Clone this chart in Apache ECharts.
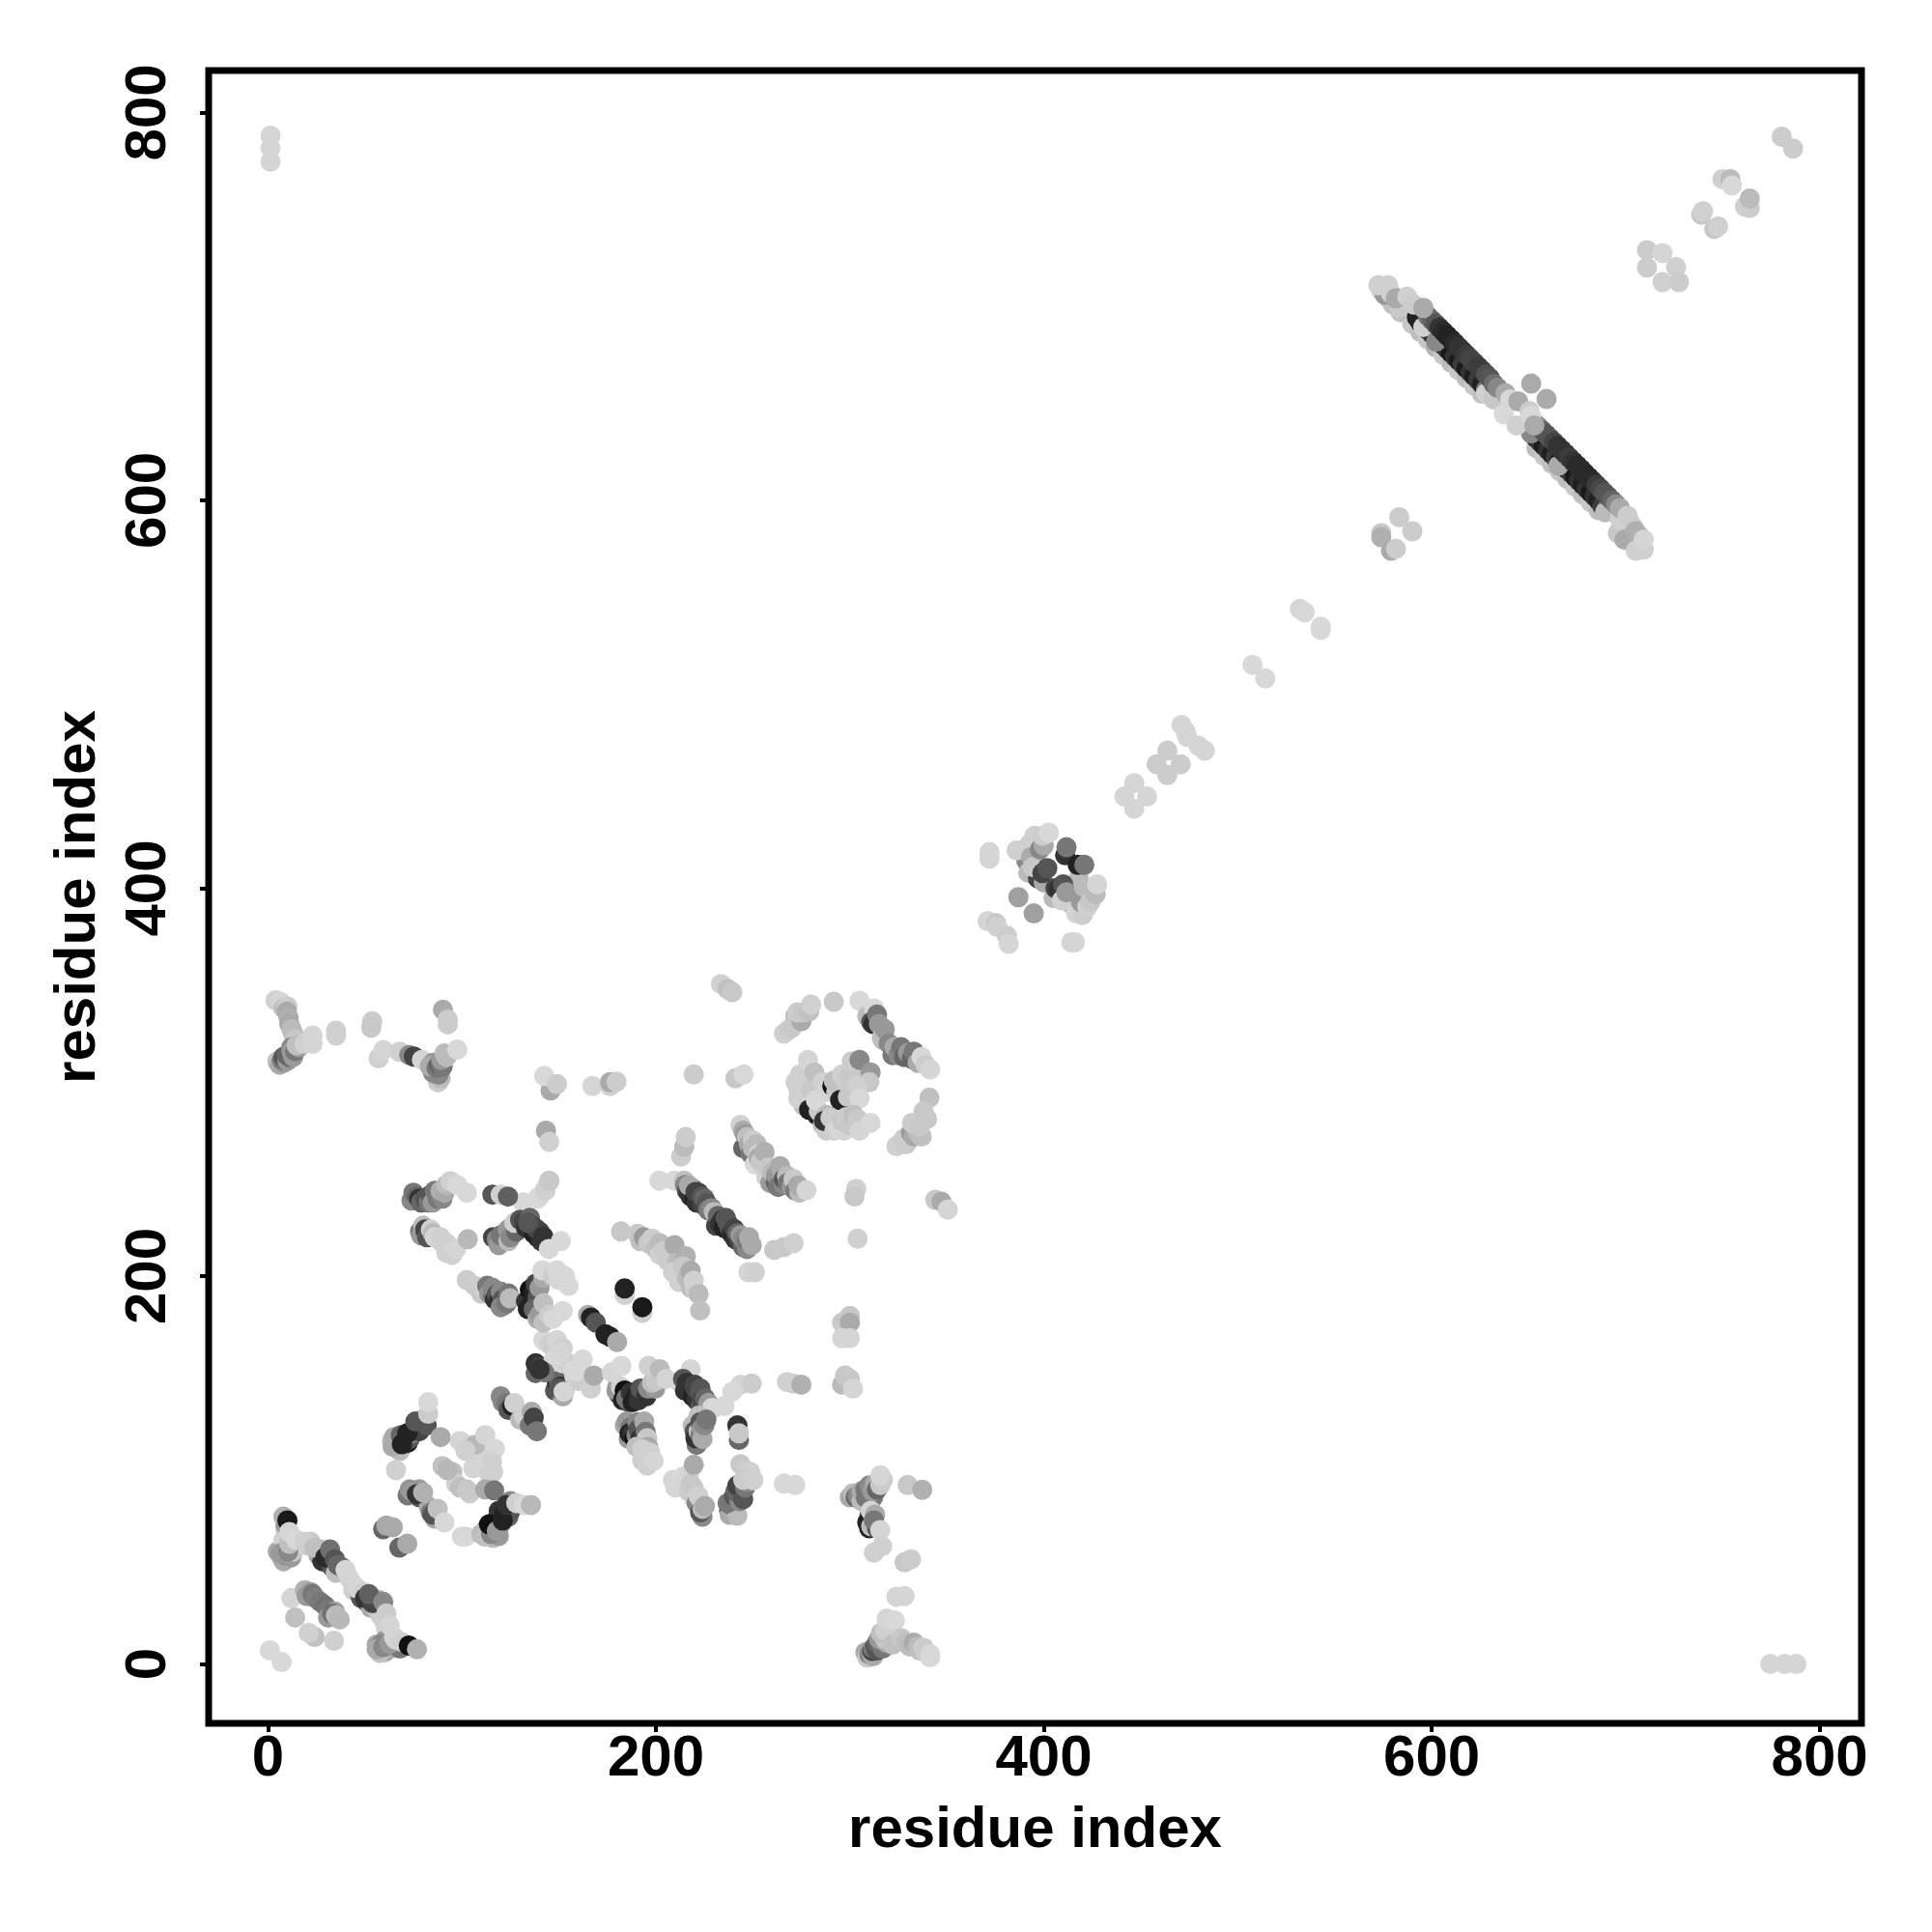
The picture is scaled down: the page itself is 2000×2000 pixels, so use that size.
<!DOCTYPE html>
<html>
<head>
<meta charset="utf-8">
<style>html,body{margin:0;padding:0;background:#fff}#c{width:2000px;height:2000px}</style>
<script src="https://cdn.jsdelivr.net/npm/echarts@6/dist/echarts.min.js"></script>
</head>
<body>
<div id="c"></div>
<script>
// every entry: [residue x, residue y, gray level 0-255]
var axisTitle = 'residue index';
var tickValues = [0, 200, 400, 600, 800];
var cornerTL = [[1.3,788,213],[1.3,781.6,213],[1.3,774.6,213]];
var cornerBR = [[774.6,0,213],[782,0,213],[788,0,213]];
var cornerBL = [[1,7,216],[7,1,216]];
var smallSquare = [[12,34,213],[14,24,192],[24,14,192],[21,16,208],[34,12,208],[19,38,176],[22,37,153],[20,35,153],[23,36,119],[24.5,34,128],[27,32,119],[29.5,30,112],[31,28,119],[31,24,153],[34.5,27,160],[33,26,112],[35,25,187],[37,23,184]];
var diag1Fill = [[5,58,170],[7,55,187],[8,53,170],[9,56,136],[12,55,153],[13,58,200],[12,60,208],[8,64,208],[9,70,192],[10,66,208],[12,65,208],[16,62,213],[21,61,200],[22,63,200],[27,59,192],[26,56,170],[28,53,51],[30,57,136],[31,52,51],[33,54,102],[33,50,85],[35,47,192],[38,50,119],[42,44,213],[44,41,213],[44,38,208],[47,36,170],[48,34,85],[51,32,51],[53,29,170],[55,33,119],[57,33,170],[56,28,192],[58,25,204],[60,22,208],[61,18,208],[63,16,204],[56,10,170],[58,6,176],[60,6,187],[61,7,153],[63,8,170],[64,10,153],[60,12,153],[58,10,136],[65,11,192],[67,10,170],[68,8,119]];
var diag1Low = [[57.7,5.7,192],[56,7.6,170],[59.4,8.6,136],[62.7,10.5,153],[66,12.4,208],[6.3,57,153],[10.4,58,136],[11,62,192],[9,72,153]];
var diag1 = [[8,76,176],[10,74,26],[11,68,213],[14.6,64,216],[18.7,63,208],[24,60,192],[29.5,55,42],[32,59,112],[34.5,54,85],[36,51,102],[40,48.5,213],[46,39,213],[49.4,37,208],[50,34,51],[54,31.4,68],[52,36,96],[59.4,32,136],[61,26,204],[62.7,20,213],[65,14,213],[69,11.4,208],[72.6,9.5,17],[76.8,7.6,176]];
var pairD = [[59.4,69.5,102],[61,71.4,168],[64.3,70.5,170],[67.7,60,102],[71.8,62,170]];
var ringUpperFill = [[64,115,187],[66,113,170],[67,115,136],[68,110,187],[70,117,102],[72,114,34],[73,116,85],[74,120,34],[75,119,119],[77,122,51],[78,120,68],[79,124,51],[80,126,119]];
var ringUpper = [[64.3,112,170],[65,117,170],[68.5,118,102],[69,113.3,34],[71.8,119,34],[76,125,85],[81.8,123,85],[82.6,129,204],[82.6,135,216],[89,117,170],[66,100,208]];
var ringArc = [[95,99,192],[97,93,208],[104,88,204],[103,113,213],[108,110,208],[110,112,208],[110,105,213],[112,103,213],[116,99,208],[99,115,213],[106.8,113,184],[112,118,213],[101.8,110,208],[117,111,216],[115.5,104,208],[105.8,101,213],[114,98,208],[90,102,192],[92.5,100,184],[99,91,192],[102.5,90,200]];
var ringLowerFill = [[72,87,119],[73,90,153],[78,90,153],[78,86,85],[83,81,170],[84,78,119],[86,75,170],[112,66,170],[114,68,136],[116,65,187],[119,66,153],[113,70,85],[116,71,34],[117,72,85],[118,75,119],[120,72,153],[119,79,51],[122,78,34],[124,76,102],[125,79,85],[125,84,136]];
var ringLower = [[74,89,85],[74,89,153],[76.8,87.6,51],[80,88.5,176],[85,77,85],[87.5,80,192],[91,73,216],[100,65.7,216],[102,65.7,216],[110,67,187],[111.6,65.7,192],[115,67,136],[114,72,17],[118,68.6,153],[112,90,170],[116.6,89.5,119],[121,74,34],[123,82,51],[128,83,208],[132,82,216],[135.6,82,184]];
var clusterF = [[120,138,136],[121,135,136],[123,134.5,119],[124,131,85],[126,133,34],[127,134.5,208],[130,126,187],[132,128,208],[133.6,126.7,208],[135,123,119],[136,130,170],[137,127,68],[138.6,120,119]];
var clusterG = [[138,150,102],[138,155,51],[140,153,68],[141,151,85],[143,150.5,136],[148,141,85],[149,145,51],[150,146,102],[151,143,51],[152,138,170],[153,141,208]];
var clusterH = [[142,167,216],[145,165,208],[147,163,204],[149,167,213],[150,160,204],[147,156,213],[152,163,208],[152,155,213],[155,155,208],[149,159,216],[150.7,160.4,213],[158,148,213],[160,146,204],[157.4,151.2,216],[159,151,216],[162.3,157,216],[166.5,142,208],[168,148.7,170]];
var clusterI = [[102.5,198,204],[106.6,195,204],[110,191,200],[111.6,193,208],[113,195,119],[114,191,153],[116,190,119],[115.7,194,136],[117,188,51],[118,190.5,85],[119,186.7,51],[120,192,136],[121,188,85],[122,185,153],[120,184,136],[123,186,119],[124,191,119],[124.7,188.6,187]];
var clusterJ = [[133,187,51],[134,183,34],[135,193,17],[135.6,185,34],[137,191,34],[138,196,68],[139,189,85],[140,194,153],[137,183,102],[139,178,170],[140,180,153],[142,176,192],[142,186,192],[142,199,170],[141.5,203,216],[145,180,204],[147,178,216],[147,200,204],[150,198,213],[149,203,216],[152,182,216],[155,195,216],[153,200,216]];
var clusterK = [[116,220,68],[118,219,136],[119,216,153],[120,221,119],[122,222,119],[124,218,187],[123.7,224,153],[125,220,136],[128,223,102],[127,227.5,208],[131.5,238,216],[139.8,241,216],[143,245,216],[144.8,248.6,208],[130,229,85],[132,228,68],[133,225,51],[135,230,102],[136,226,51],[137,222,34],[139,220,34],[140,223,68],[141,218,51],[138,224.6,68],[134,227.5,85],[142,220.4,51],[144.8,214,216],[151,218,216],[115.7,242,85],[120,242,208],[123.7,241,96]];
var clusterL = [[74,239,136],[75,243,119],[76.8,241,102],[78,240,51],[79,238,102],[81,240,85],[83,238,119],[84,242,85],[85,238,153],[86,244,119],[87.5,240,119],[90,240,136],[89,244,176],[91,243,170],[92,247,187],[94,249,208],[97.6,247,216],[102.5,243,216]];
var clusterM = [[78.4,223,119],[79,221,153],[80,226,187],[81,224,68],[82,220,85],[84,224,208],[85,222,187],[86,220,213],[89,220,208],[90,217,208],[92,217,208],[92,212,208],[94,215,208],[95,211,208],[97,214,213],[103,219,184]];
var topGroup = [[233.6,350.6,208],[237,348,192],[239.4,346.4,200]];
var ringTopLeft = [[266,325,208],[268.5,327,204],[270,328,200],[272,334,170],[272,332,200],[275,331.5,170],[273,336,204],[276,336,200],[279,336.4,192],[280,340,208],[291.7,341.4,200]];
var ringTopRight = [[305,342,216],[309,334,187],[312.4,338,216],[311,331,85],[312,330,51],[314,334.8,119],[315,330,153],[317,322,170],[316.5,323,192],[318,327.3,153],[320,320,136],[322,314,119],[323,318,170],[325,314,136],[326.5,318,119],[328,313,102],[330,315,153],[332,312,102],[333,315.7,119],[335,310,170],[337,313,216],[339,309,204],[341.4,306.5,213]];
var ringRight = [[341,292,192],[324,267,208],[326.5,269,208],[328,271,204],[329,268,204],[331.5,274,153],[333,272,170],[332,279,204],[335,274,187],[337,272,192],[334,278,204],[338,285,200],[339.8,281,200],[336,277,200]];
var innerRing = [[272,300,208],[276,294,204],[277,300,200],[276,288,192],[274.3,304,208],[273.4,296.6,208],[273.4,291.6,208],[279,285.8,34],[280,296,200],[283,283,34],[284,285,200],[278.4,311.5,213],[281.7,305,192],[282,296,200],[282.5,290.8,216],[286,278,192],[288,283,187],[288,275,204],[290,278,208],[286,300,208],[288,295,213],[291,298,17],[293,295,200],[291.7,300.7,192],[296,304,208],[298,300,204],[300,304,200],[303,306,200],[301,310.7,204],[305,311.5,136],[310.7,305,153],[310,300,200],[295,290.8,34],[299,292.4,200],[304,298,208],[305,291.6,216],[286.7,280,51],[290,281.6,204],[292,275,208],[294.2,276,216],[297,275,213],[295.8,280,200],[298,282,204],[300,278,200],[302,283,192],[304,281,200],[305,275,213],[310.7,279,216]];
var helixA = [[245,266,102],[243.6,278,208],[245,275,170],[246,273,153],[247,271.7,192],[248,268,170],[249,263,119],[250,270,204],[250,266,187],[252,268,187],[251,257.6,216],[253,263,208],[253,261,170],[254,259,200],[256,264,176],[257,251,208],[258,256,200],[259,248,153],[260,253.4,187],[261.8,248.4,102],[262,252,153],[263,246,119],[264,256.7,170],[265,254,170],[266,247,136],[266,250,85],[267.6,251.7,187],[268,248,119],[270,246,153],[271,250,200],[272,244,119],[274,243,187],[273.4,246.7,170],[277.6,244.3,213]];
var stackB = [[213,261.7,204],[214.6,266.7,187],[215.4,271.7,204],[201.8,249.2,216],[209.6,249.2,216]];
var betaA = [[214.6,249.2,192],[215,247,136],[216,244,85],[217,243,51],[218,241,51],[219,245,85],[217,246.7,170],[220,240,34],[221,238,51],[220.4,243.4,68],[222,243,68],[223.7,241,85],[224,237,68],[225,240,102],[226.2,237.6,85],[227,234,119],[228.7,235,136],[230,233,187],[231,226,68],[232,231,102],[233,227,51],[234.5,229.3,51],[235,225,34],[236,230,85],[237,224,34],[237,227.6,85],[238,225,85],[239,222,51],[240,221,34],[240.3,224.3,68],[241,219,51],[242,222,102],[243,218,68],[243.6,221,153],[245,215,102],[245,219,136],[247,214,136],[247,218,119],[248,220,170],[249.4,216,170],[247.7,202,213],[251,202,208],[261,213.5,200],[266,215,200],[271,217,208]];
var singles = [[303.3,245,208],[302.4,241,200],[304,219.3,208],[344,239.3,200],[347.2,238.4,170],[350.5,234.3,213],[219.5,304,204],[241,302,200],[245.2,304,216]];
var helixC = [[182,223,200],[190.5,221.8,200],[192,218,192],[193.8,220,153],[196,217,200],[198,219.3,204],[200,214,192],[202,217,187],[202,211,208],[204,213,204],[206,208,204],[209.6,216,170],[211,207,187],[211,200,204],[215.4,210.2,176],[208.8,202,208],[214,205,200],[212,197,208],[216,199,187],[218,194,187],[217.9,202.7,170],[220,193,204],[219.5,197.7,208],[222,190.8,187],[222.8,182.3,192]];
var darkPair = [[184,190.3,208],[183.9,193.6,34],[193,181,208],[193,184,26]];
var darkRun = [[165,180,170],[166.5,178.6,34],[169,176,85],[174,170,34],[176.4,168.7,34],[180,166,170]];
var top300 = [[145.7,295.7,170],[142.4,303.2,216],[149,299,204],[167.3,298,213],[176.4,298,208],[176.4,300,170],[179.7,300.2,204]];
var col145 = [[143.3,275,170],[145,269.2,208],[139,240,216],[143,244,208],[145,249.2,200]];
var right300 = [[296,176,200],[300,179.5,200],[300,176,170],[296,168,213],[300,168,213],[296,144,187],[297.5,148.7,200],[300,147,200],[301.6,142,213]];
var row145 = [[267.6,145.4,208],[271,144.6,208],[275,144,176],[243.6,144,213],[249.4,144.6,204],[239.4,140.4,216],[230,132,216],[235.3,133,216]];
var run140L = [[142.4,150.4,119],[140,152,51],[150,142,85],[152.4,140.4,213],[180,143,170],[181,139,68],[179.7,141,153],[182,143,208],[183,136,34],[183.9,141,17],[186,135,85],[184.7,137,119],[187,140,51],[188,135,34],[189.7,138,34],[191,136,51],[192,142,85],[193.8,140.4,85],[195,138,51],[196,142,136],[199.6,142,153],[198,145,192],[200,146,200],[177.3,150.4,213],[182.2,153.7,216],[196.3,153.7,208],[202,152,187],[205.4,147,213],[212,145.5,213]];
var run140R = [[217.9,152,213],[214,147,85],[215,141,51],[216,145,51],[218,140,51],[217.9,143.8,51],[219,138,34],[220,144,68],[221,136,51],[220.4,142,68],[223,142,85],[222.8,139.6,85],[223,133,85],[224,136,68],[225.3,137,102],[226,134,85],[228,132,136],[227,134.6,153],[229,132,216]];
var lowerA = [[184,123,170],[185,125,153],[187,122,119],[186,116,153],[186.4,118.9,34],[188,119,51],[188.9,116.4,17],[190,118,136],[190.5,124.7,136],[191,121,85],[192,116,51],[193,113,119],[194,125,170],[194.7,119.7,119],[195.5,116.4,200],[190,112,192],[196,112,170],[197,109,208],[193,105,204],[193,110.6,208],[195.5,102.3,208],[198.8,104.8,213]];
var lowerB = [[219,123,187],[220,120,85],[221,113,119],[220.4,116.4,51],[222,128,192],[222,120,192],[222.9,124.7,85],[223,118,119],[223.7,121.4,153],[224,116,170],[225,123,136],[226,126,119]];
var lowerC = [[242,123,51],[242.8,115.6,102],[242.8,118.9,200]];
var lowerD = [[208.8,94.8,213],[210,91,213],[213.7,96.4,216],[215,93,213],[217,98,213],[217,89,204],[218,93,200],[219.5,102.7,170],[219.5,90.6,200],[220,85,204],[221,83,136],[222,86.5,208],[224,76,136],[222.8,78.2,85],[224,80,187],[225.3,81.5,170]];
var lowerE = [[237.8,79,51],[238,77,170],[239,82,51],[241,80,102],[242,76.5,187],[237,83,119],[240.3,86.5,85],[243,84,136],[241,89,102],[243.6,90.6,85],[242,92,68],[245,85,85],[246,91,119],[247,94,136],[243.6,103,200],[246,100,204],[248.6,99,208],[245,95,204],[250.2,94.8,208]];
var lowerF = [[266,93,216],[271.8,92.3,216]];
var branch316 = [[300,86,170],[301.6,88,187],[303,86,102],[304,87,136],[306,84,187],[306,89,170],[308,90,119],[308.3,85.6,119],[310,92,136],[312,86,119],[311.6,89,153],[313,93,170],[314,90,102],[315.7,92.3,200],[317,95,204],[315.7,97.3,213],[329.8,92.3,200],[337.3,89.8,176]];
var branch316b = [[310,70,34],[310,76,102],[309,73,34],[311,71,187],[310.8,79,213],[313,77,170],[314,70,85],[312.4,74,119],[315.7,69,213],[312.4,57.4,208],[316.6,60.7,208],[328.2,52.4,200],[331.5,54,204],[324,34.7,213],[328.2,35,213]];
var branch316c = [[308,6,170],[309,3.4,200],[310,5,136],[312,4,170],[311.6,6.7,68],[312,8,119],[314,7,85],[313.2,9.2,85],[314,11,102],[317,8,119],[316.6,10,119],[315,13,153],[319,11,170],[318.2,13,200],[316,16,192],[320,16,204],[318.2,17.5,208],[319,23.4,213],[323.2,22.5,216],[322,10,192],[326.5,13.4,200],[329,11,192],[331,9,187],[333,11,170],[335,9,187],[336,7,192],[338,8.4,204],[339,6,204],[341.4,5,216],[341.4,3.5,216]];
var helix400 = [[372,418.6,213],[372,415.3,213],[386.9,395.4,160],[394.8,387,160],[371,383,213],[375.3,382,200],[376,380,208],[381,375.4,204],[381.9,371.3,213],[414.2,372.1,213],[416,372.1,213]];
var ring400 = [[390,418,192],[391,414,136],[392,408,187],[394,419,119],[396,424,187],[396,413,170],[397,405,68],[397,410,153],[400,403,170],[405,395,187],[406,400,68],[413,397,204],[414,392,187],[416,394,153],[418,398,119],[418,405,187],[386,419.5,208],[392.7,422.8,208],[393.5,416.1,170],[394.3,411,200],[395.2,427,208],[399.3,407.8,68],[401.8,410.3,85],[398,420,136],[400,422,170],[399.3,427,204],[402.6,428.6,216],[411,417,51],[411.7,421.1,119],[417.5,412,34],[420.9,412,119],[407.6,399.5,51],[410,402,85],[409.3,393.7,208],[411.7,397.9,153],[416.7,387,213],[420,386.2,204],[419.2,392.9,153],[422.5,390.4,208],[420.9,400.4,187],[424,393,200],[426.7,397,187],[427.5,402,213]];
var chain450 = [[446.6,454.2,213],[441.6,447.3,213],[453.2,447.3,213],[446.6,441,213],[463.7,470.9,204],[458.2,463.9,204],[470.6,463.9,204],[463.7,458.4,204],[471,484.2,213],[473.1,480.8,213],[474,478,213],[479.8,473.4,213],[483,470.9,213]];
var chain510 = [[507.6,515.2,216],[514.2,508.2,216]];
var chain540 = [[532,544,213],[534.5,542.3,216],[542.8,534.8,216],[542.8,533.2,216]];
var clover580 = [[574,583,200],[574,581,176],[583.3,591.3,204],[590,584,204],[579,574,170],[581.6,575,204]];
var antiFringe = [[590,691,200],[594,687,190],[598,683,200],[602,679,180],[606,675,200],[610,671,190],[614,667,200],[618,663,190],[622,659,200],[626,655,190],[654,627,190],[658,623,200],[662,619,190],[666,615,200],[670,611,190],[674,607,200],[678,603,190],[682,599,200],[686,595,190]];
var antiEndA = [[574,708,208],[578,704,200],[576,709,208],[580,701,192],[584,697,190],[586,702,204],[588,698,200],[592,697,204],[590,695,170]];
var antiEndB = [[698,587,200],[700,585,190],[702,589,204],[703,580,192],[704,586,200],[706,578,200],[707,582,204],[707,577,208]];
var antiLowDense = [[594,692,30],[596,690,60],[598,688,34],[600,686,51],[602,684,30],[604,682,60],[606,680,34],[608,678,51],[610,676,26],[612,674,51],[614,672,30],[616,670,60],[618,668,26],[620,666,51],[622,664,30],[624,662,60],[626,660,34],[628,657,120],[652,634,102],[654,632,40],[656,630,51],[658,628,26],[660,626,51],[662,624,30],[664,622,60],[666,620,26],[668,618,51],[670,616,30],[672,614,60],[674,612,26],[676,610,51],[678,608,30],[680,606,51],[682,604,26],[684,602,51],[686,600,34],[688,597,60],[690,595,120]];
var antiLow = [[575.8,706,153],[583.3,699.2,200],[592.4,694.3,34],[595.7,689.3,208],[602.3,681.8,136],[628,655.2,208],[632,652,200],[651.3,634.5,136],[665.4,617.9,170],[689.4,593.8,187],[696,583,200],[697,590.5,208],[699.4,579.7,170]];
var antiHighDense = [[598,695,119],[600,693,102],[602,691,85],[604,689,51],[606,687,42],[608,685,34],[610,683,34],[612,681,42],[614,679,51],[616,677,51],[618,675,60],[620,673,68],[622,671,68],[624,669,60],[626,667,60],[628,665,80],[630,663,85],[632,660,110],[634,658,136],[653,640,170],[655,638,136],[657,636,100],[659,634,85],[661,632,85],[663,630,68],[665,628,51],[667,626,51],[669,624,51],[671,622,60],[673,620,51],[675,618,42],[677,616,42],[679,614,42],[681,612,42],[683,610,42],[685,608,60],[687,606,70],[689,604,85],[691,602,85],[693,600,100],[695,598,136],[697,596,170]];
var antiHigh = [[572.5,710.9,208],[577.5,710.9,208],[579,706.7,208],[581.6,704.2,170],[587.4,705,208],[590.7,701,204],[595.7,699.2,170],[638,655.2,170],[637.2,644.4,216],[640.5,652,216],[644.6,651,170],[643.8,638.6,208],[650.4,646,204],[651.3,643.6,216],[651.3,660.2,170],[659.2,652.2,170],[652.9,638.6,170],[701,592,204],[705,584,176],[705.2,574,208],[709.3,574.7,208],[709.3,579.7,213]];
var square720 = [[711,729,204],[711,720,204],[719,727.5,213],[726,720.3,208],[719,712.5,208],[727.5,712.5,204]];
var chain750 = [[739,747.3,200],[739.9,749,208],[745.7,739.9,200],[747.7,741.2,208],[749.9,765.6,208],[754,765.6,187],[754.8,762.3,216],[761.5,751.5,208],[764,750.7,204],[764,755.6,187],[780.5,787.5,204],[786.3,781.4,204]];
var leftBranch = [[3.9,342.2,208],[6.4,341.4,213],[8,338,192],[10,339,204],[9.7,336.4,170],[10.6,333.1,176],[11,330,170],[12.2,327.3,187],[13,325,187],[14,322,200],[4.8,310.7,192],[6,309,170],[8,310,153],[7.3,311.5,119],[8,313,85],[10,311,153],[9.7,314,102],[11,313,102],[13,313,153],[12,318,136],[12.2,315.7,153],[14,316,119],[16,318,153],[14.7,319,192],[18.9,319.8,208],[23,319.8,213],[23,324,213],[35.1,326.5,208],[35.1,324,208],[53.7,331.4,204],[53.2,328.1,200]];
var leftRow = [[57,312.3,208],[59.5,316.5,213],[67.8,315.7,208],[72.8,314,136],[75.2,313.2,68],[79.4,311.5,213],[87.7,299.9,204],[89,302,187],[86.9,303.2,187],[85,305,136],[88,304,136],[85,310,153],[83.5,308.2,170],[86.9,307.4,119],[88,309,102],[90,308,119],[89.3,311.5,153],[92,313,187],[91,314.8,187],[97.6,316.8,216],[90.2,337.3,170],[92.7,332.3,204],[92.7,329.8,204]];

var allPoints = [].concat(cornerTL, cornerBR, cornerBL, smallSquare, diag1Fill, diag1Low, diag1, pairD, ringUpperFill, ringUpper, ringArc, ringLowerFill, ringLower, clusterF, clusterG, clusterH, clusterI, clusterJ, clusterK, clusterL, clusterM, topGroup, ringTopLeft, ringTopRight, ringRight, innerRing, helixA, stackB, betaA, singles, helixC, darkPair, darkRun, top300, col145, right300, row145, run140L, run140R, lowerA, lowerB, lowerC, lowerD, lowerE, lowerF, branch316, branch316b, branch316c, helix400, ring400, chain450, chain510, chain540, clover580, antiEndA, antiEndB, antiFringe, antiLowDense, antiLow, antiHighDense, antiHigh, square720, chain750, leftBranch, leftRow);

var font = {fontFamily: '"Liberation Sans"', fontWeight: 'bold', fontSize: 60, color: '#000'};
function axis(rotate, margin, gap) {
  return {
    type: 'value', min: -30.6, max: 821.6,
    name: axisTitle, nameLocation: 'middle', nameGap: gap,
    nameTextStyle: font,
    splitLine: {show: false},
    axisLine: {show: false, onZero: false},
    axisTick: {show: true, length: 9, lineStyle: {color: '#000', width: 4}, customValues: tickValues},
    axisLabel: Object.assign({show: true, rotate: rotate, margin: margin, customValues: tickValues}, font)
  };
}
var chart = echarts.init(document.getElementById('c'), null, {renderer: 'canvas', width: 2000, height: 2000});
chart.setOption({
  animation: false,
  backgroundColor: '#fff',
  grid: {left: 216, top: 73, width: 1711, height: 1711, show: true, borderColor: '#000', borderWidth: 7, backgroundColor: '#fff'},
  xAxis: axis(0, 7, 81),
  yAxis: axis(90, 32, 105),
  series: [{
    type: 'scatter',
    symbol: 'circle',
    symbolSize: 21,
    clip: false,
    large: false,
    progressive: 0,
    silent: true,
    data: allPoints.map(function (p) {
      var g = p[2];
      return {value: [p[0], p[1]], itemStyle: {color: 'rgb(' + g + ',' + g + ',' + g + ')', opacity: 1}};
    })
  }]
});
</script>
</body>
</html>
